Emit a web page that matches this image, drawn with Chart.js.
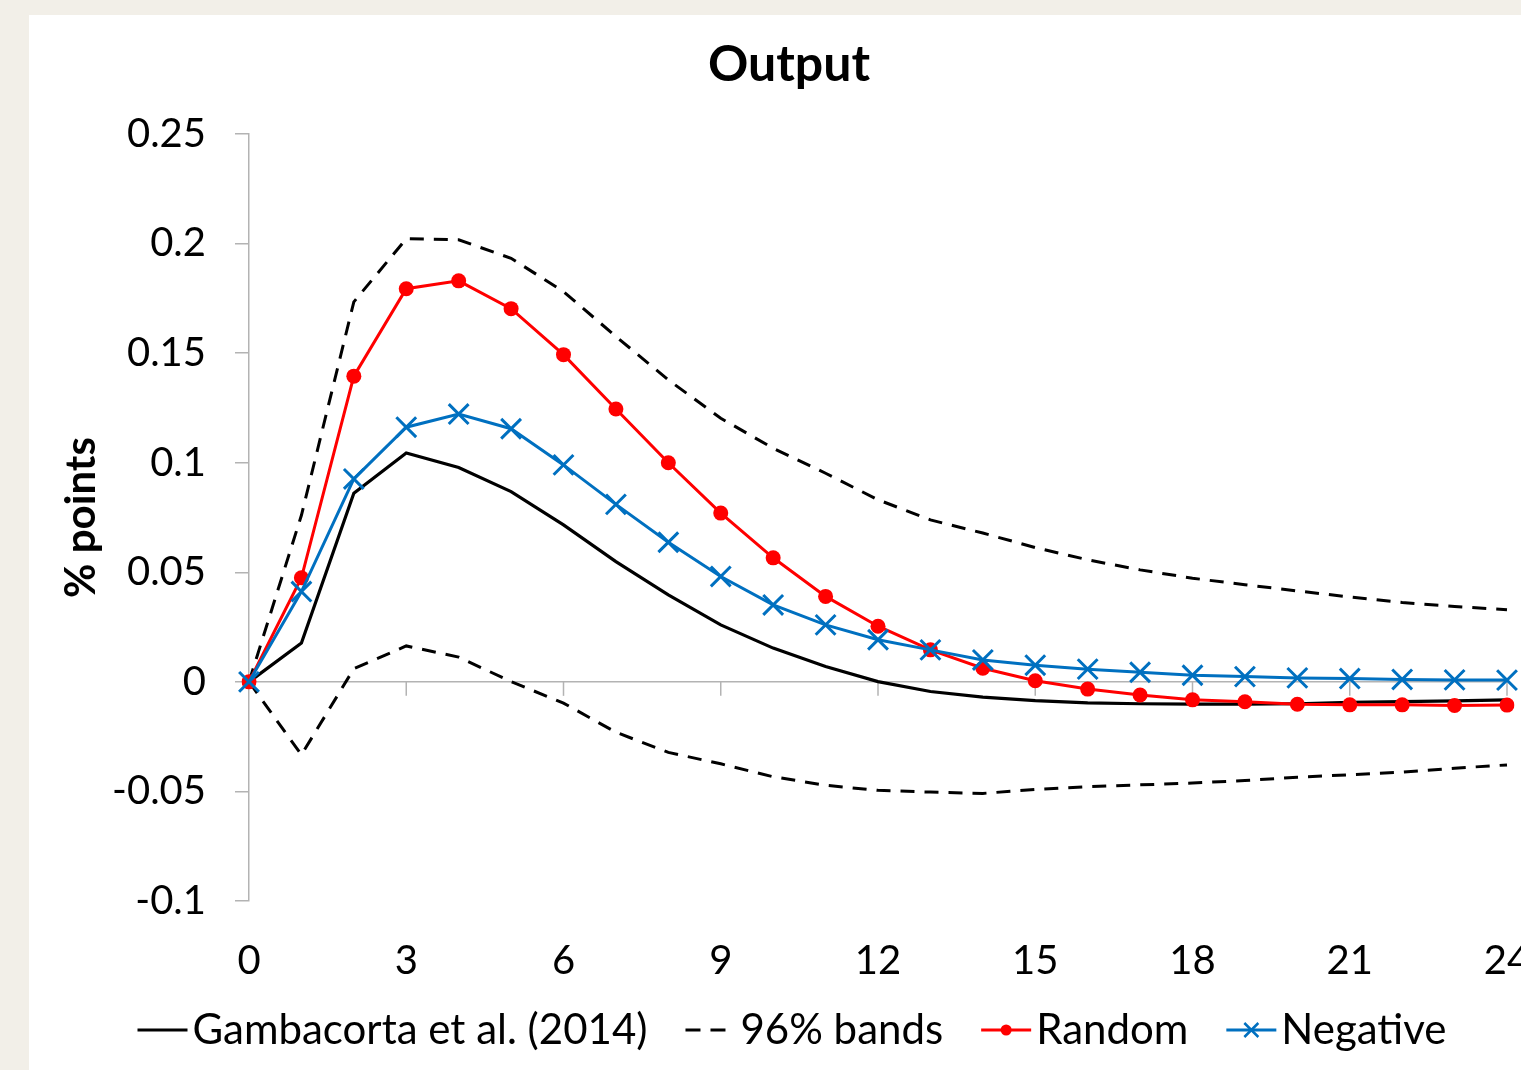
<!DOCTYPE html>
<html>
<head>
<meta charset="utf-8">
<script src="https://cdn.jsdelivr.net/npm/chart.js@4.4.1/dist/chart.umd.min.js"></script>
<style>
  html, body { margin: 0; padding: 0; overflow: hidden; background: #f2efe8; width: 1521px; height: 1070px; }
  #panel { position: absolute; left: 29px; top: 15px; width: 1526px; height: 1055px; background: #ffffff; }
  canvas { display: block; }
</style>
</head>
<body>
<div id="panel"><canvas id="c" width="1526" height="1055"></canvas></div>
<script>
// ---- data ----
const months = [0,1,2,3,4,5,6,7,8,9,10,11,12,13,14,15,16,17,18,19,20,21,22,23,24];
const xTickLabels = ['0','3','6','9','12','15','18','21','24'];
const gambacorta = [0, 0.0177, 0.0861, 0.1044, 0.0978, 0.0868, 0.0716, 0.0549, 0.0397, 0.0260, 0.0154, 0.0070, 0.0001, -0.0044, -0.0070, -0.0086, -0.0096, -0.0100, -0.0102, -0.0102, -0.0100, -0.0093, -0.0090, -0.0087, -0.0082];
const bandUpper = [0, 0.0760, 0.1734, 0.2022, 0.2017, 0.1933, 0.1781, 0.1576, 0.1378, 0.1203, 0.1066, 0.0952, 0.0831, 0.0739, 0.0679, 0.0613, 0.0557, 0.0511, 0.0473, 0.0443, 0.0415, 0.0387, 0.0362, 0.0344, 0.0329];
const bandLower = [0, -0.0333, 0.0060, 0.0164, 0.0113, 0.0001, -0.0097, -0.0230, -0.0322, -0.0374, -0.0433, -0.0472, -0.0495, -0.0503, -0.0509, -0.0491, -0.0478, -0.0470, -0.0462, -0.0450, -0.0435, -0.0424, -0.0412, -0.0394, -0.0379];
const randomShock = [0, 0.0475, 0.1395, 0.1794, 0.1830, 0.1703, 0.1493, 0.1245, 0.1000, 0.0770, 0.0566, 0.0390, 0.0254, 0.0146, 0.0062, 0.0005, -0.0033, -0.0060, -0.0082, -0.0091, -0.0102, -0.0105, -0.0105, -0.0108, -0.0106];
const negativeShock = [0, 0.0412, 0.0926, 0.1162, 0.1222, 0.1155, 0.0990, 0.0810, 0.0637, 0.0481, 0.0351, 0.0260, 0.0192, 0.0146, 0.0100, 0.0076, 0.0058, 0.0044, 0.0030, 0.0024, 0.0018, 0.0015, 0.0011, 0.0009, 0.0008];
const yTickLabels = ['-0.1','-0.05','0','0.05','0.1','0.15','0.2','0.25'];
const legendLabels = ['Gambacorta et al. (2014)', '96% bands', 'Random', 'Negative'];

const FONT = 'Lato';
const AXIS_GREY = '#b3b3b3';
const RED = '#ff0000';
const BLUE = '#0070c0';

// x tick marks along the zero line
const zeroTicks = {
  id: 'zeroTicks',
  beforeDatasetsDraw(chart) {
    const {ctx, scales: {x, y}} = chart;
    const y0 = y.getPixelForValue(0);
    ctx.save();
    ctx.strokeStyle = AXIS_GREY;
    ctx.lineWidth = 1.5;
    months.forEach((m, i) => {
      if (xTickLabels.includes(String(m)) && i > 0) {
        const px = x.getPixelForValue(i);
        ctx.beginPath();
        ctx.moveTo(px, y0);
        ctx.lineTo(px, y0 + 14);
        ctx.stroke();
      }
    });
    ctx.restore();
  }
};

// legend drawn like the Excel legend (line sample + marker)
const excelLegend = {
  id: 'excelLegend',
  afterDraw(chart) {
    const {ctx, chartArea} = chart;
    ctx.save();
    ctx.font = '42px ' + FONT;
    ctx.textBaseline = 'middle';
    ctx.fillStyle = '#000';
    const sampleW = 50, textGap = 5, itemGap = 38;
    const widths = legendLabels.map(t => ctx.measureText(t).width);
    const total = widths.reduce((a, w) => a + sampleW + textGap + w, 0) + itemGap * (legendLabels.length - 1);
    let x = chart.width / 2 - total / 2;
    const y = chartArea.bottom + 129;
    legendLabels.forEach((t, i) => {
      ctx.save();
      ctx.lineWidth = 3;
      if (i === 0) {
        ctx.strokeStyle = '#000';
        ctx.beginPath(); ctx.moveTo(x, y); ctx.lineTo(x + sampleW, y); ctx.stroke();
      } else if (i === 1) {
        ctx.strokeStyle = '#000';
        ctx.setLineDash([15, 10]);
        ctx.beginPath(); ctx.moveTo(x, y); ctx.lineTo(x + 40, y); ctx.stroke();
      } else if (i === 2) {
        ctx.strokeStyle = RED; ctx.fillStyle = RED;
        ctx.beginPath(); ctx.moveTo(x, y); ctx.lineTo(x + sampleW, y); ctx.stroke();
        ctx.beginPath(); ctx.arc(x + sampleW / 2, y, 5.5, 0, Math.PI * 2); ctx.fill();
      } else {
        ctx.strokeStyle = BLUE;
        ctx.beginPath(); ctx.moveTo(x, y); ctx.lineTo(x + sampleW, y); ctx.stroke();
        ctx.lineWidth = 2.5;
        const cx = x + sampleW / 2, r = 7;
        ctx.beginPath();
        ctx.moveTo(cx - r, y - r); ctx.lineTo(cx + r, y + r);
        ctx.moveTo(cx - r, y + r); ctx.lineTo(cx + r, y - r);
        ctx.stroke();
      }
      ctx.restore();
      ctx.fillText(t, x + sampleW + textGap, y);
      x += sampleW + textGap + widths[i] + itemGap;
    });
    ctx.restore();
  }
};

new Chart(document.getElementById('c'), {
  type: 'line',
  data: {
    labels: months.map(String),
    datasets: [
      { label: legendLabels[3], data: negativeShock, borderColor: BLUE, backgroundColor: BLUE, borderWidth: 3,
        pointStyle: 'crossRot', pointRadius: 14, pointBorderWidth: 3, pointBorderColor: BLUE, order: 0 },
      { label: legendLabels[2], data: randomShock, borderColor: RED, backgroundColor: RED, borderWidth: 3,
        pointStyle: 'circle', pointRadius: 7.5, pointBorderWidth: 0, pointBackgroundColor: RED, order: 1 },
      { label: legendLabels[0], data: gambacorta, borderColor: '#000', borderWidth: 3.2, pointRadius: 0, order: 2 },
      { label: legendLabels[1], data: bandUpper, borderColor: '#000', borderWidth: 3, borderDash: [14, 10], pointRadius: 0, order: 3 },
      { label: legendLabels[1] + ' (lower)', data: bandLower, borderColor: '#000', borderWidth: 3, borderDash: [14, 10], pointRadius: 0, order: 3 }
    ]
  },
  options: {
    responsive: false,
    animation: false,
    devicePixelRatio: 1,
    layout: { padding: { left: 42, right: 48, top: 0, bottom: 90 } },
    elements: { line: { tension: 0, fill: false } },
    plugins: {
      legend: { display: false },
      tooltip: { enabled: false },
      title: {
        display: true, text: 'Output', color: '#000',
        font: { family: FONT, size: 50, weight: 'bold', lineHeight: 1.2 },
        padding: { top: 20, bottom: 39 }
      }
    },
    scales: {
      x: {
        type: 'category',
        offset: false,
        border: { display: false },
        grid: { display: false, drawTicks: false },
        ticks: {
          autoSkip: false, maxRotation: 0, color: '#000', padding: 36,
          font: { family: FONT, size: 40 },
          callback: function(v, i) { const l = this.getLabelForValue(v); return xTickLabels.includes(l) ? l : null; }
        },
        afterFit: (s) => { s.height = 79; s.paddingLeft = 0; s.paddingRight = 0; }
      },
      y: {
        min: -0.1, max: 0.25,
        border: { display: true, color: AXIS_GREY, width: 1.5 },
        grid: {
          drawOnChartArea: true, drawTicks: true, tickLength: 14, tickColor: AXIS_GREY, tickWidth: 1.5,
          lineWidth: 1.5,
          color: (c) => (c.tick && Math.abs(c.tick.value) < 1e-9) ? AXIS_GREY : 'rgba(0,0,0,0)'
        },
        ticks: {
          stepSize: 0.05, color: '#000', padding: 29,
          font: { family: FONT, size: 40 },
          callback: (v) => yTickLabels.find(t => Math.abs(parseFloat(t) - v) < 1e-9) ?? ''
        },
        title: {
          display: true, text: '% points', color: '#000',
          font: { family: FONT, size: 42, weight: 'bold', lineHeight: 0.5 },
          padding: { top: 0, bottom: 0 }
        },
        afterFit: (s) => { s.width = 178; s.paddingTop = 0; s.paddingBottom = 0; }
      }
    }
  },
  plugins: [zeroTicks, excelLegend]
});
</script>
</body>
</html>
